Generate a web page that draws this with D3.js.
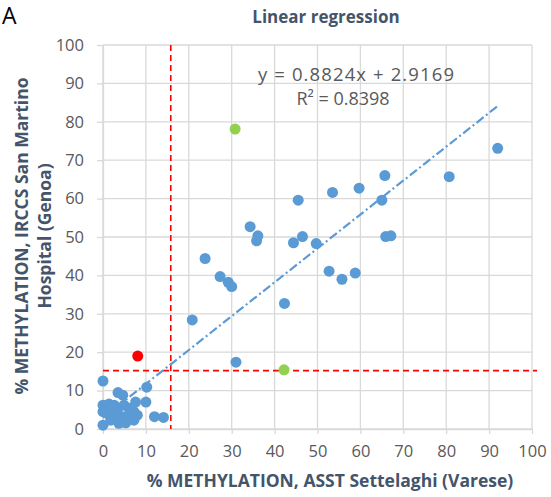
<!DOCTYPE html>
<html>
<head>
<meta charset="utf-8">
<script src="https://cdn.jsdelivr.net/npm/d3@7"></script>
<style>
  body { margin: 0; background: #fff; }
  svg { display: block; font-family: 'Open Sans', sans-serif; }
</style>
</head>
<body>
<svg id="chart" width="551" height="497"></svg>
<script>
  // data
  var blueX = [92.0, 80.7, 65.7, 65.0, 59.7, 53.5, 45.5, 34.3, 36.1, 35.8, 44.4, 46.5, 49.7, 65.9, 67.1,
    23.8, 27.3, 29.2, 30.0, 52.7, 55.7, 58.8, 42.3, 20.8, 31.0,
    0, 3.5, 4.6, 10.2, 10.0, 7.6, 12.0, 14.1, 0, 0, 1.4, 2.6, 4.9, 6.1, 7.2, 0, 8.0, 3.7, 5.3, 7.2,
    1.0, 2.6, 4.5, 1.8, 5.7, 3.3, 0.6];
  var blueY = [73.1, 65.7, 66.0, 59.6, 62.7, 61.6, 59.6, 52.7, 50.3, 49.0, 48.5, 50.1, 48.3, 50.1, 50.3,
    44.4, 39.7, 38.2, 37.1, 41.1, 39.0, 40.6, 32.7, 28.4, 17.4,
    12.5, 9.5, 8.8, 10.9, 7.0, 7.0, 3.2, 3.0, 1.0, 6.2, 6.5, 6.2, 6.2, 5.4, 4.5, 4.5, 3.6, 1.5, 1.6, 2.3,
    4.1, 3.6, 3.2, 2.3, 3.4, 4.9, 5.4];
  var greenX = [30.8, 42.2];
  var greenY = [78.1, 15.4];
  var redX = [8.1];
  var redY = [19.0];

  var slope = 0.8824, intercept = 2.9169;
  var cutX = 15.8, cutY = 15.2;

  var xTicks = [0, 10, 20, 30, 40, 50, 60, 70, 80, 90, 100];
  var yTicks = [0, 10, 20, 30, 40, 50, 60, 70, 80, 90, 100];

  var svg = d3.select('#chart');
  var x = d3.scaleLinear().domain([0, 100]).range([103, 532]);
  var y = d3.scaleLinear().domain([0, 100]).range([429, 45]);

  var gridColor = '#d9d9d9';
  var textColor = '#595959';
  var titleColor = '#44546a';

  // grid
  var grid = svg.append('g');
  grid.selectAll('.gx').data(xTicks).enter().append('line')
    .attr('x1', function(d) { return x(d); }).attr('x2', function(d) { return x(d); })
    .attr('y1', y(0)).attr('y2', y(100))
    .attr('stroke', gridColor).attr('stroke-width', 1.3);
  grid.selectAll('.gy').data(yTicks).enter().append('line')
    .attr('y1', function(d) { return y(d); }).attr('y2', function(d) { return y(d); })
    .attr('x1', x(0)).attr('x2', x(100))
    .attr('stroke', gridColor).attr('stroke-width', 1.3);

  // axes
  var xAxis = svg.append('g').attr('transform', 'translate(0,' + y(0) + ')')
    .call(d3.axisBottom(x).tickValues(xTicks).tickSize(5).tickSizeOuter(0).tickPadding(11));
  var yAxis = svg.append('g').attr('transform', 'translate(' + x(0) + ',0)')
    .call(d3.axisLeft(y).tickValues(yTicks).tickSize(6).tickSizeOuter(0).tickPadding(13));
  [xAxis, yAxis].forEach(function(a) {
    a.select('.domain').attr('stroke', gridColor).attr('stroke-width', 1.3);
    a.selectAll('.tick line').attr('stroke', gridColor).attr('stroke-width', 1.3);
    a.selectAll('.tick text').attr('fill', textColor)
      .style('font-size', '16.5px').style('font-family', "'Open Sans', sans-serif");
  });

  // cut-off lines
  svg.append('line')
    .attr('x1', x(cutX)).attr('x2', x(cutX)).attr('y1', y(100)).attr('y2', y(0))
    .attr('stroke', '#ff0000').attr('stroke-width', 1.6).attr('stroke-dasharray', '6,4');
  svg.append('line')
    .attr('x1', x(0)).attr('x2', x(100) + 5).attr('y1', y(cutY)).attr('y2', y(cutY))
    .attr('stroke', '#ff0000').attr('stroke-width', 1.6).attr('stroke-dasharray', '6,4');

  // trend line over data range
  var xMin = d3.min(blueX.concat(greenX, redX)), xMax = d3.max(blueX.concat(greenX, redX));
  svg.append('line')
    .attr('x1', x(xMin)).attr('y1', y(slope * xMin + intercept))
    .attr('x2', x(xMax)).attr('y2', y(slope * xMax + intercept))
    .attr('stroke', '#5b9bd5').attr('stroke-width', 2.2).attr('stroke-dasharray', '9,3,2,3');

  // points
  function dots(xs, ys, color) {
    svg.append('g').selectAll('circle').data(xs).enter().append('circle')
      .attr('cx', function(d) { return x(d); })
      .attr('cy', function(d, i) { return y(ys[i]); })
      .attr('r', 5.5)
      .attr('fill', color);
  }
  dots(blueX, blueY, '#5b9bd5');
  dots(greenX, greenY, '#92d050');
  dots(redX, redY, '#ff0000');

  // texts
  svg.append('text').attr('x', 2).attr('y', 24).text('A')
    .style('font-size', '23px').attr('fill', '#000');
  svg.append('text').attr('x', 326).attr('y', 23).attr('text-anchor', 'middle')
    .text('Linear regression').attr('fill', titleColor)
    .style('font-size', '17px').style('font-weight', 'bold');
  svg.append('text').attr('x', 356).attr('y', 81).attr('text-anchor', 'middle')
    .attr('textLength', 196).attr('lengthAdjust', 'spacing')
    .text('y = 0.8824x + 2.9169').attr('fill', textColor).style('font-size', '18.5px');
  svg.append('text').attr('x', 343).attr('y', 105).attr('text-anchor', 'middle')
    .text('R² = 0.8398').attr('fill', textColor).style('font-size', '18px');

  svg.append('text').attr('x', 330).attr('y', 487).attr('text-anchor', 'middle')
    .text('% METHYLATION, ASST Settelaghi (Varese)').attr('fill', titleColor)
    .style('font-size', '17.5px').style('font-weight', 'bold');
  var yt = svg.append('text').attr('transform', 'translate(28,236) rotate(-90)')
    .attr('text-anchor', 'middle').attr('fill', titleColor)
    .style('font-size', '17.5px').style('font-weight', 'bold');
  yt.append('tspan').attr('x', 0).attr('dy', 0).text('% METHYLATION, IRCCS San Martino');
  yt.append('tspan').attr('x', 0).attr('dy', 23).text('Hospital (Genoa)');
</script>
</body>
</html>
